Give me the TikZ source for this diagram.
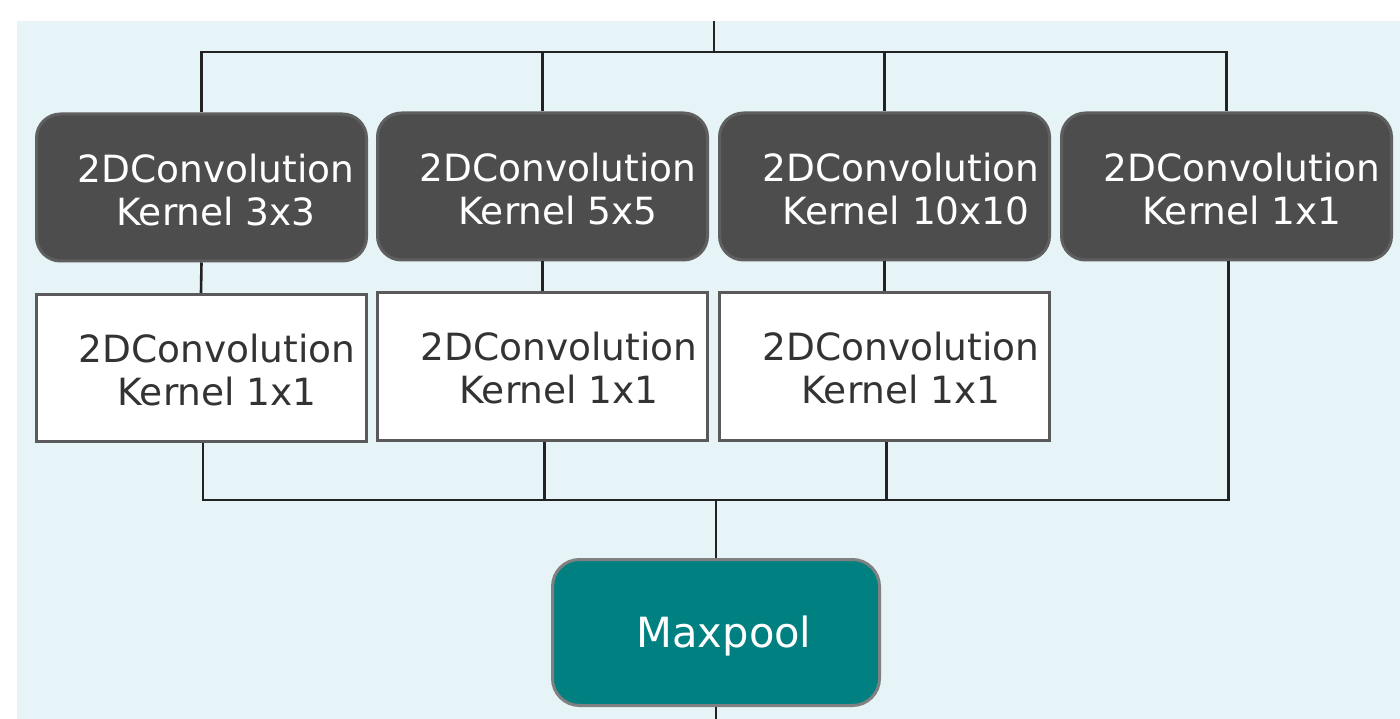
\documentclass[tikz,border=0pt]{standalone}
\usepackage{fontspec}
\setmainfont{DejaVu Sans}
\definecolor{panelbg}{HTML}{E6F3F7}
\definecolor{darkfill}{HTML}{4D4D4D}
\definecolor{darkedge}{HTML}{5F5F5F}
\definecolor{lightedge}{HTML}{5A5A5A}
\definecolor{linec}{HTML}{222222}
\definecolor{textdark}{HTML}{333333}
\definecolor{tealfill}{HTML}{008080}
\definecolor{tealedge}{HTML}{808080}
\begin{document}
\begin{tikzpicture}[x=1pt,y=-1pt,
  darkbox/.style={draw=darkedge, fill=darkfill, line width=3pt, rounded corners=24pt,
    minimum width=330pt, minimum height=147pt, inner sep=0pt},
  whitebox/.style={draw=lightedge, fill=white, line width=3pt,
    minimum width=330pt, minimum height=147pt, inner sep=0pt},
  poolbox/.style={draw=tealedge, fill=tealfill, line width=3pt, rounded corners=27pt,
    minimum width=327pt, minimum height=146pt, inner sep=0pt},
  lighttext/.style={text=white, font=\fontsize{37.5}{43}\selectfont, align=center, inner sep=0pt},
  darktext/.style={text=textdark, font=\fontsize{37.5}{43}\selectfont, align=center, inner sep=0pt},
  pooltext/.style={text=white, font=\fontsize{41.6}{48}\selectfont, inner sep=0pt},
  conn/.style={draw=linec, line width=2.6pt}]
\useasboundingbox (0,0) rectangle (1400,719);
\fill[white] (0,0) rectangle (1400,719);
\fill[panelbg] (17,21) rectangle (1400,719);

% first row: convolutions with larger kernels
\node[darkbox] (c3)  at (201.5,187.5) {};
\node[darkbox] (c5)  at (542.5,186.5) {};
\node[darkbox] (c10) at (884.5,186.5) {};
\node[darkbox] (c1)  at (1226.5,186.5) {};
\node[lighttext] (c3t)  at (216,190) {2DConvolution\\Kernel 3x3};
\node[lighttext] (c5t)  at (558,189) {2DConvolution\\Kernel 5x5};
\node[lighttext] (c10t) at (901,189) {2DConvolution\\\hspace{10pt}Kernel 10x10};
\node[lighttext] (c1t)  at (1242,189) {2DConvolution\\Kernel 1x1};

% second row: 1x1 reductions
\node[whitebox] (p3)  at (201,368) {};
\node[whitebox] (p5)  at (542.5,366.5) {};
\node[whitebox] (p10) at (884.5,366.5) {};
\node[darktext] (p3t)  at (217,370) {2DConvolution\\Kernel 1x1};
\node[darktext] (p5t)  at (559,368) {2DConvolution\\Kernel 1x1};
\node[darktext] (p10t) at (901,368) {2DConvolution\\Kernel 1x1};

% pooling
\node[poolbox] (mp) at (716,632.5) {};
\node[pooltext] (mpt) at (724,636) {Maxpool};

% input branching
\coordinate (src) at (714,21);
\coordinate (bus) at (714,52);
\draw[conn] (src) -- (bus);
\draw[conn] (c3.north) -- (c3.north |- bus) -- (c1.north |- bus) -- (c1.north);
\draw[conn] (c5.north |- bus) -- (c5.north);
\draw[conn] (c10.north |- bus) -- (c10.north);

% first row into second row
\draw[conn] (c3.south) -- (p3.north);
\draw[conn] (c5.south) -- (p5.north);
\draw[conn] (c10.south) -- (p10.north);

% concatenation
\coordinate (join) at (716,500);
\draw[conn] ([xshift=2pt]p3.south) -- ([xshift=2pt]p3.south |- join) -- ([xshift=2pt]c1.south |- join) -- ([xshift=2pt]c1.south);
\draw[conn] ([xshift=2pt]p5.south) -- ([xshift=2pt]p5.south |- join);
\draw[conn] ([xshift=2pt]p10.south) -- ([xshift=2pt]p10.south |- join);
\draw[conn] (join) -- (mp.north);
\coordinate (out) at (716,719);
\draw[conn] (mp.south) -- (out);
\end{tikzpicture}
\end{document}
